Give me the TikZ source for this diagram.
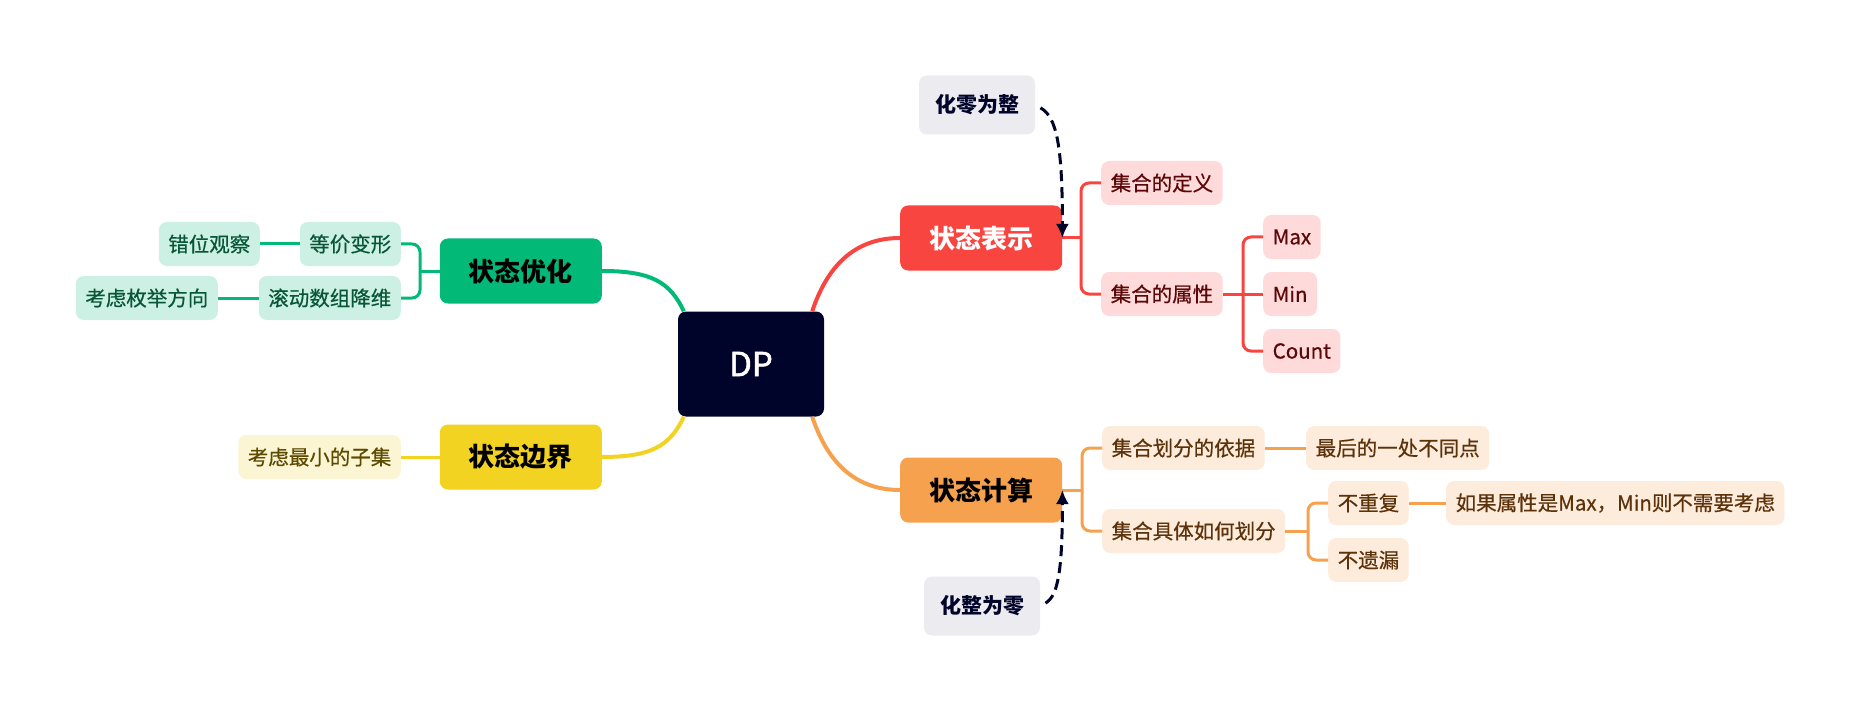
\documentclass[tikz,border=0pt]{standalone}
\usepackage{fontspec}
\setmainfont{Noto Sans CJK SC}
\newfontfamily\dpfont{Noto Sans CJK SC}[FakeBold=1.6]
\newfontfamily\subfont{Noto Sans CJK SC}[FakeBold=0.5]
\usetikzlibrary{arrows.meta}

\definecolor{dpnavy}{RGB}{1,4,42}
\definecolor{redmain}{RGB}{248,69,63}
\definecolor{redlight}{RGB}{255,218,218}
\definecolor{redtext}{RGB}{92,8,8}
\definecolor{orgmain}{RGB}{245,161,77}
\definecolor{orglight}{RGB}{253,235,220}
\definecolor{orgtext}{RGB}{92,50,10}
\definecolor{grnmain}{RGB}{2,185,119}
\definecolor{grnlight}{RGB}{204,240,227}
\definecolor{grntext}{RGB}{8,86,56}
\definecolor{ylwmain}{RGB}{242,211,34}
\definecolor{ylwlight}{RGB}{252,245,212}
\definecolor{ylwtext}{RGB}{92,75,0}
\definecolor{notegray}{RGB}{236,235,240}

\begin{document}
\begin{tikzpicture}[x=1pt,y=-1pt,
    % define styles
    root/.style={
        fill=dpnavy,
        text=white,
        rounded corners=8pt,
        minimum width=146pt,
        minimum height=105pt,
        font=\dpfont\fontsize{33}{36}\selectfont
    },
    topic/.style={
        rounded corners=8pt,
        minimum width=162pt,
        minimum height=65pt,
        font=\fontsize{26}{30}\selectfont\bfseries
    },
    sub/.style={
        rounded corners=8pt,
        minimum height=44pt,
        inner xsep=9.5pt,
        font=\subfont\fontsize{20.5}{24}\selectfont
    },
    notebox/.style={
        fill=notegray,
        text=dpnavy,
        rounded corners=8pt,
        minimum width=116pt,
        minimum height=59pt,
        font=\fontsize{21}{24}\selectfont\bfseries
    },
    branch/.style={line width=4pt},
    twig/.style={line width=3pt, rounded corners=8pt},
    hint/.style={
        draw=dpnavy,
        line width=3pt,
        dash pattern=on 11pt off 6pt,
        shorten <=6pt,
        -{Latex[length=14pt,width=13pt]}
    }
]
\useasboundingbox (0,0) rectangle (1867,711);

% root
\node[root] (dp) at (751,364) {DP};

% main topics
\node[topic,fill=redmain,text=white,anchor=west] (repr) at (900,238) {状态表示};
\node[topic,fill=orgmain,text=black,anchor=west] (calc) at (900,490) {状态计算};
\node[topic,fill=grnmain,text=black,anchor=east] (opt) at (602,271) {状态优化};
\node[topic,fill=ylwmain,text=black,anchor=east] (bound) at (602,457) {状态边界};

% red subtopics
\node[sub,fill=redlight,text=redtext,anchor=west] (defn) at (1101,183) {集合的定义};
\node[sub,fill=redlight,text=redtext,anchor=west] (attr) at (1101,294) {集合的属性};
\node[sub,fill=redlight,text=redtext,anchor=west] (max) at (1263,237) {Max};
\node[sub,fill=redlight,text=redtext,anchor=west] (min) at (1263,294) {Min};
\node[sub,fill=redlight,text=redtext,anchor=west] (count) at (1263,351) {Count};

% orange subtopics
\node[sub,fill=orglight,text=orgtext,anchor=west] (basis) at (1102,448) {集合划分的依据};
\node[sub,fill=orglight,text=orgtext,anchor=west] (last) at (1306,448) {最后的一处不同点};
\node[sub,fill=orglight,text=orgtext,anchor=west] (how) at (1102,531) {集合具体如何划分};
\node[sub,fill=orglight,text=orgtext,anchor=west] (norep) at (1328,503) {不重复};
\node[sub,fill=orglight,text=orgtext,anchor=west] (nomiss) at (1328,560) {不遗漏};
\node[sub,fill=orglight,text=orgtext,anchor=west] (maxmin) at (1446,503) {如果属性是Max，Min则不需要考虑};

% green subtopics
\node[sub,fill=grnlight,text=grntext,anchor=east] (equiv) at (401,244) {等价变形};
\node[sub,fill=grnlight,text=grntext,anchor=east] (shift) at (260,244) {错位观察};
\node[sub,fill=grnlight,text=grntext,anchor=east] (roll) at (401,298) {滚动数组降维};
\node[sub,fill=grnlight,text=grntext,anchor=east] (order) at (218,298) {考虑枚举方向};

% yellow subtopic
\node[sub,fill=ylwlight,text=ylwtext,anchor=east] (least) at (401,457) {考虑最小的子集};

% floating notes
\node[notebox] (whole) at (977,105) {化零为整};
\node[notebox] (parts) at (982,606) {化整为零};

% branches from root
\draw[branch,redmain] ([xshift=-12pt]dp.north east) .. controls +(14,-42) and +(-48,0) .. (repr.west);
\draw[branch,orgmain] ([xshift=-12pt]dp.south east) .. controls +(14,42) and +(-48,0) .. (calc.west);
\draw[branch,grnmain] ([xshift=6pt]dp.north west) .. controls +(-14,-30) and +(48,0) .. (opt.east);
\draw[branch,ylwmain] ([xshift=6pt]dp.south west) .. controls +(-14,30) and +(48,0) .. (bound.east);

% red twigs
\coordinate (jr1) at (1081,238);
\coordinate (jr2) at (1243,294);
\draw[twig,redmain] (repr.east) -- (jr1);
\draw[twig,redmain] (jr1) |- (defn.west);
\draw[twig,redmain] (jr1) |- (attr.west);
\draw[twig,redmain] (attr.east) -- (jr2);
\draw[twig,redmain] (jr2) |- (max.west);
\draw[twig,redmain] (jr2) -- (min.west);
\draw[twig,redmain] (jr2) |- (count.west);

% orange twigs
\coordinate (jo1) at (1082,490);
\coordinate (jo2) at (1308,531);
\draw[twig,orgmain] (calc.east) -- (jo1);
\draw[twig,orgmain] (jo1) |- (basis.west);
\draw[twig,orgmain] (jo1) |- (how.west);
\draw[twig,orgmain] (basis.east) -- (last.west);
\draw[twig,orgmain] (how.east) -- (jo2);
\draw[twig,orgmain] (jo2) |- (norep.west);
\draw[twig,orgmain] (jo2) |- (nomiss.west);
\draw[twig,orgmain] (norep.east) -- (maxmin.west);

% green twigs
\coordinate (jg) at (420,271);
\draw[twig,grnmain] (opt.west) -- (jg);
\draw[twig,grnmain] (jg) |- (equiv.east);
\draw[twig,grnmain] (jg) |- (roll.east);
\draw[twig,grnmain] (equiv.west) -- (shift.east);
\draw[twig,grnmain] (roll.west) -- (order.east);

% yellow twig
\draw[twig,ylwmain] (bound.west) -- (least.east);

% dashed hints
\draw[hint] (whole.east) .. controls +(22,12) and +(0,-90) .. (repr.east);
\draw[hint] (parts.east) .. controls +(18,-10) and +(0,80) .. (calc.east);
\end{tikzpicture}
\end{document}
